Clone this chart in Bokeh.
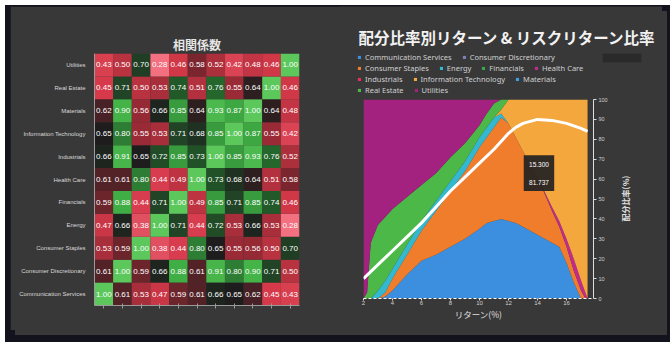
import math
from bokeh.plotting import figure
from bokeh.models import (FactorRange, Range1d, ColumnDataSource, Legend, LegendItem,
                          Label, BoxAnnotation, FixedTicker, Div)
from bokeh.transform import linear_cmap
from bokeh.embed import file_html
from bokeh.resources import INLINE
from bokeh.core.properties import value

# ---------------- data ----------------
sectors = ["Communication Services", "Consumer Discretionary", "Consumer Staples", "Energy",
           "Financials", "Health Care", "Industrials", "Information Technology", "Materials",
           "Real Estate", "Utilities"]

corr_comm = [1.00, 0.61, 0.53, 0.47, 0.59, 0.61, 0.66, 0.65, 0.62, 0.45, 0.43]
corr_disc = [0.61, 1.00, 0.59, 0.66, 0.88, 0.61, 0.91, 0.80, 0.90, 0.71, 0.50]
corr_stap = [0.53, 0.59, 1.00, 0.38, 0.44, 0.80, 0.65, 0.55, 0.56, 0.50, 0.70]
corr_ener = [0.47, 0.66, 0.38, 1.00, 0.71, 0.44, 0.72, 0.53, 0.66, 0.53, 0.28]
corr_fin = [0.59, 0.88, 0.44, 0.71, 1.00, 0.49, 0.85, 0.71, 0.85, 0.74, 0.46]
corr_hc = [0.61, 0.61, 0.80, 0.44, 0.49, 1.00, 0.73, 0.68, 0.64, 0.51, 0.58]
corr_ind = [0.66, 0.91, 0.65, 0.72, 0.85, 0.73, 1.00, 0.85, 0.93, 0.76, 0.52]
corr_it = [0.65, 0.80, 0.55, 0.53, 0.71, 0.68, 0.85, 1.00, 0.87, 0.55, 0.42]
corr_mat = [0.62, 0.90, 0.56, 0.66, 0.85, 0.64, 0.93, 0.87, 1.00, 0.64, 0.48]
corr_re = [0.45, 0.71, 0.50, 0.53, 0.74, 0.51, 0.76, 0.55, 0.64, 1.00, 0.46]
corr_util = [0.43, 0.50, 0.70, 0.28, 0.46, 0.58, 0.52, 0.42, 0.48, 0.46, 1.00]

# allocation (%) along the efficient frontier, by return (%)
ret = [2.0, 2.25, 2.5, 3.0, 3.5, 4.0, 5.0, 6.0, 7.0, 8.0, 9.0, 10.0, 10.5, 11.0,
       11.5, 12.0, 12.5, 13.0, 14.0, 15.0, 15.5, 16.0, 16.5, 17.0, 17.3, 17.45]
w_comm = [0, 0, 0, 0, 1, 4, 12, 19, 22, 26, 30, 35, 38, 39, 40, 39, 38, 36, 32, 28, 26, 18, 8, 0, 0, 0]
w_disc = [0] * 26
w_stap = [0, 0, 0, 0, 2, 6, 10, 15, 22, 28, 34, 41, 43, 47, 51, 49, 43, 38, 29, 16, 10, 8, 6, 4, 0, 0]
w_ener = [0, 0, 0, 4, 6, 5, 5, 5, 5, 5, 5, 5, 5, 5, 2, 0, 0, 0, 0, 0, 0, 0, 0, 0, 0, 0]
w_fin = [0] * 26
w_hc = [0, 0, 0, 0, 0, 0, 0, 0, 0, 0, 0, 0, 0, 0, 0, 0, 0, 0, 0, 2, 3, 4, 6, 5, 3, 0]
w_ind = [0] * 26
w_it = [0, 0, 0, 0, 0, 0, 0, 0, 0, 0, 0, 0, 0, 0, 2, 12, 19, 26, 39, 54, 61, 70, 80, 91, 97, 100]
w_mat = [0] * 26
w_re = [0, 3, 28, 33, 32, 30, 24, 18, 14, 12, 9, 6, 7, 7, 5, 0, 0, 0, 0, 0, 0, 0, 0, 0, 0, 0]
w_util = [100, 97, 72, 63, 59, 55, 49, 43, 37, 29, 22, 13, 7, 2, 0, 0, 0, 0, 0, 0, 0, 0, 0, 0, 0, 0]

# risk-return ratio line
rr_ret = [2, 3, 4, 5, 6, 7, 8, 9, 10, 11, 12, 12.5, 13, 14, 15, 16, 17, 17.45]
rr_ratio = [10, 17, 24, 31, 38, 46, 54, 61, 68, 75, 83, 86, 88, 90, 89.5, 88, 85.5, 84]

x_ticks = [2, 4, 6, 8, 10, 12, 14, 16]
y_ticks = [0, 10, 20, 30, 40, 50, 60, 70, 80, 90, 100]

tooltip_x = 15.3
tooltip_val = 81.737
tooltip_y = 63

# ---------------- styles ----------------
PANEL = "#383838"
OUTER = "#13131d"
area_colors = ["#3b8fde", "#7a80b8", "#ef7d2b", "#33b8d0", "#3aa84a", "#c22a8c",
               "#e8305a", "#f4a73d", "#3aa0e0", "#4cb848", "#a3217f"]


def _rgb(h):
    return tuple(int(h[i:i + 2], 16) for i in (1, 3, 5))


stops = [(0.28, "#f2707f"), (0.45, "#d5394a"), (0.56, "#952934"), (0.65, "#1e1c1d"),
         (0.75, "#22602a"), (0.88, "#3fae44"), (1.00, "#5cc85c")]
palette = []
for i in range(256):
    v = 0.28 + (1.0 - 0.28) * i / 255
    for (a, ca), (b, cb) in zip(stops[:-1], stops[1:]):
        if a <= v <= b + 1e-9:
            t = (v - a) / (b - a)
            r1, r2 = _rgb(ca), _rgb(cb)
            palette.append("#%02x%02x%02x" % tuple(int(round(r1[k] + (r2[k] - r1[k]) * t)) for k in range(3)))
            break


def absolute(left, top):
    return {"position": "absolute", "left": "%dpx" % left, "top": "%dpx" % top}


# ---------------- background ----------------
bg = Div(text="", width=670, height=342,
         styles={**absolute(0, 0), "background-color": OUTER})
panel = Div(text="", width=652, height=324,
            styles={**absolute(10, 6), "background-color": PANEL})

# ---------------- heatmap ----------------
matrix = [corr_comm, corr_disc, corr_stap, corr_ener, corr_fin, corr_hc, corr_ind,
          corr_it, corr_mat, corr_re, corr_util]
xs, ys, vs, labels = [], [], [], []
for r, rowvals in enumerate(matrix):
    for c, v in enumerate(rowvals):
        xs.append(sectors[c])
        ys.append(sectors[r])
        vs.append(v)
        labels.append("%.2f" % v)
hsrc = ColumnDataSource(dict(x=xs, y=ys, v=vs, label=labels))

p1 = figure(width=331, height=324, x_range=FactorRange(factors=sectors),
            y_range=FactorRange(factors=sectors), output_backend="svg",
            toolbar_location=None, min_border_left=84, min_border_right=42,
            min_border_top=47, min_border_bottom=25, styles=absolute(10, 6))
p1.background_fill_color = PANEL
p1.border_fill_color = PANEL
p1.outline_line_color = None
p1.grid.visible = False
p1.title.text = "相関係数"
p1.title.align = "center"
p1.title.text_color = "#e6e6e6"
p1.title.text_font = "Noto Sans CJK JP"
p1.title.text_font_size = "12px"
p1.title.text_font_style = "bold"
p1.title.standoff = 1

p1.rect(x="x", y="y", width=1, height=1, source=hsrc,
        fill_color=linear_cmap("v", palette, 0.28, 1.0), line_color=None)
p1.text(x="x", y="y", text="label", source=hsrc, text_align="center",
        text_baseline="middle", text_color="white", text_font_size="8px",
        text_font=value("Liberation Sans"))

p1.yaxis.major_label_text_font_size = "6px"
p1.yaxis.major_label_text_color = "#d8d8d8"
p1.yaxis.major_label_text_font = "Liberation Sans"
p1.yaxis.axis_line_color = "#9a9a9a"
p1.yaxis.major_tick_line_color = None
p1.yaxis.major_label_standoff = 3
p1.xaxis.major_label_text_color = None
p1.xaxis.major_label_text_font_size = "5px"
p1.xaxis.axis_line_color = "#9a9a9a"
p1.xaxis.major_tick_line_color = "#9a9a9a"
p1.xaxis.major_tick_out = 3

# ---------------- right: header (title + legend) ----------------
ph = figure(width=322, height=91, x_range=Range1d(0, 1), y_range=Range1d(0, 1),
            x_axis_type=None, y_axis_type=None, output_backend="svg",
            toolbar_location=None, title=None,
            min_border_left=0, min_border_right=0, min_border_top=0, min_border_bottom=0,
            styles=absolute(340, 6))
ph.background_fill_color = PANEL
ph.border_fill_color = PANEL
ph.outline_line_color = None
ph.grid.visible = False

# legend swatches (zero-size areas, only their legend glyphs show)
proxies = [ph.varea(x=[0], y1=[0], y2=[0], fill_color=c) for c in area_colors]
rows_idx = [[0, 1], [2, 3, 4, 5], [6, 7, 8], [9, 10]]
bottoms = [35.5, 24.5, 13.5, 2.5]
for idx, b in zip(rows_idx, bottoms):
    leg = Legend(items=[LegendItem(label=sectors[i], renderers=[proxies[i]]) for i in idx],
                 orientation="horizontal", location=(17, b), background_fill_alpha=0,
                 border_line_color=None, label_text_font_size="7.5px",
                 label_text_color="#d0d0d0", label_text_font="Noto Sans",
                 glyph_width=4, glyph_height=4, label_standoff=4, spacing=10,
                 padding=0, margin=0, label_height=9)
    ph.add_layout(leg, "center")

# small toolbar-like box at the top right of the legend
ph.add_layout(BoxAnnotation(left=262, right=301, bottom=35, top=44, left_units="screen",
                            right_units="screen", bottom_units="screen", top_units="screen",
                            fill_color="#2a2a2a", fill_alpha=1, line_color="#454545",
                            line_width=0.5))

ph.add_layout(Label(x=18, y=61, x_units="screen", y_units="screen",
                    text="配分比率別リターン & リスクリターン比率", text_baseline="middle",
                    text_color="#f2f2f2", text_font="Noto Sans CJK JP",
                    text_font_size="15.5px", text_font_style="bold"))

# ---------------- right: stacked area chart ----------------
asrc = ColumnDataSource(dict(x=ret, **{
    "Communication Services": w_comm, "Consumer Discretionary": w_disc,
    "Consumer Staples": w_stap, "Energy": w_ener, "Financials": w_fin,
    "Health Care": w_hc, "Industrials": w_ind, "Information Technology": w_it,
    "Materials": w_mat, "Real Estate": w_re, "Utilities": w_util}))

p2 = figure(width=322, height=234, x_range=Range1d(2, 17.86), y_range=Range1d(0, 100),
            y_axis_location="right", output_backend="svg", toolbar_location=None,
            title=None, min_border_left=23, min_border_right=69, min_border_top=3,
            min_border_bottom=32, styles=absolute(340, 96))
p2.background_fill_color = PANEL
p2.border_fill_color = PANEL
p2.outline_line_color = None
p2.grid.visible = False

p2.varea_stack(stackers=sectors, x="x", color=area_colors, source=asrc)
p2.line(rr_ret, rr_ratio, line_color="white", line_width=3)

p2.add_layout(BoxAnnotation(left=tooltip_x - 2.25, right=tooltip_x - 0.15,
                            bottom=tooltip_y - 9, top=tooltip_y + 9,
                            fill_color="#222222", fill_alpha=0.92, line_color=None))
p2.add_layout(Label(x=tooltip_x - 1.2, y=tooltip_y + 4.5, text="%.3f" % tooltip_x,
                    text_align="center", text_baseline="middle", text_color="white",
                    text_font="Liberation Sans", text_font_size="6.5px"))
p2.add_layout(Label(x=tooltip_x - 1.2, y=tooltip_y - 4.5, text="%.3f" % tooltip_val,
                    text_align="center", text_baseline="middle", text_color="white",
                    text_font="Liberation Sans", text_font_size="6.5px"))

p2.xaxis.ticker = FixedTicker(ticks=x_ticks)
p2.xaxis.axis_line_color = "white"
p2.xaxis.axis_line_dash = "3 2"
p2.xaxis.major_tick_line_color = "#dddddd"
p2.xaxis.minor_tick_line_color = None
p2.xaxis.major_tick_out = 2
p2.xaxis.major_tick_in = 0
p2.xaxis.major_label_text_font_size = "6px"
p2.xaxis.major_label_text_color = "#d0d0d0"
p2.xaxis.major_label_standoff = 0
p2.xaxis.axis_label = "リターン(%)"
p2.xaxis.axis_label_text_font = "Noto Sans CJK JP"
p2.xaxis.axis_label_text_font_size = "8.5px"
p2.xaxis.axis_label_text_font_style = "normal"
p2.xaxis.axis_label_text_color = "#e0e0e0"
p2.xaxis.axis_label_standoff = 0

p2.yaxis.ticker = FixedTicker(ticks=y_ticks)
p2.yaxis.axis_line_color = "#dddddd"
p2.yaxis.major_tick_line_color = "#dddddd"
p2.yaxis.minor_tick_line_color = None
p2.yaxis.major_tick_out = 3
p2.yaxis.major_tick_in = 0
p2.yaxis.major_label_text_font_size = "5.5px"
p2.yaxis.major_label_text_color = "#d0d0d0"
p2.yaxis.major_label_standoff = 2

# rotated y-axis title (reads bottom to top), in its own small canvas
pl = figure(width=22, height=80, x_range=Range1d(0, 1), y_range=Range1d(0, 1),
            x_axis_type=None, y_axis_type=None, output_backend="svg",
            toolbar_location=None, title=None,
            min_border_left=0, min_border_right=0, min_border_top=0, min_border_bottom=0,
            styles=absolute(614, 158))
pl.background_fill_color = PANEL
pl.border_fill_color = PANEL
pl.outline_line_color = None
pl.grid.visible = False
pl.add_layout(Label(x=11, y=40, x_units="screen", y_units="screen", text="配分比率(%)",
                    angle=math.pi / 2, text_align="center", text_baseline="middle",
                    text_color="#e0e0e0", text_font="Noto Sans CJK JP",
                    text_font_size="8px", text_font_style="bold"))

open("out.html", "w").write(file_html([bg, panel, p1, ph, p2, pl], INLINE))
